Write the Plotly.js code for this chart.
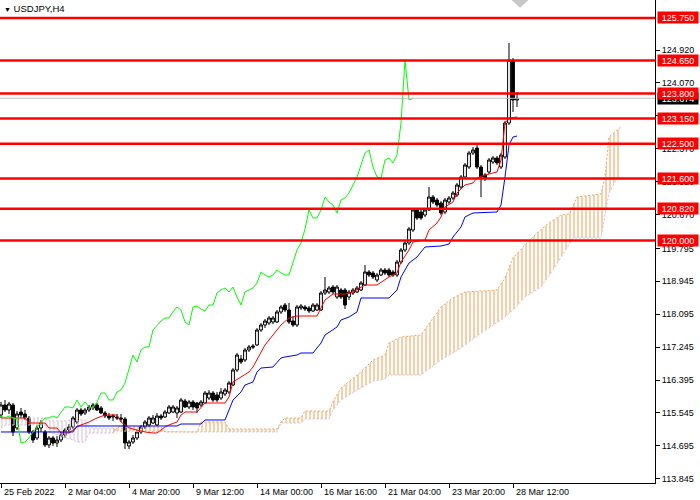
<!DOCTYPE html>
<html><head><meta charset="utf-8">
<script src="https://cdn.plot.ly/plotly-3.0.1.min.js"></script>
<style>html,body{margin:0;padding:0;background:#fff}#chart{width:700px;height:500px}</style>
</head><body><div id="chart"></div>
<script>
const symbolTitle = "USDJPY,H4";
const timeLabels = ["25 Feb 2022","2 Mar 04:00","4 Mar 20:00","9 Mar 12:00","14 Mar 00:00","16 Mar 16:00","21 Mar 04:00","23 Mar 20:00","28 Mar 12:00"];
const timeLabelBars = [0,16,32,48,64,80,96,112,128];
const priceTicks = [113.845,114.695,115.545,116.395,117.245,118.095,118.945,119.795,120.670,121.520,122.370,123.220,124.070,124.920];
const levels = [125.75,124.65,123.80,123.15,122.50,121.60,120.82,120.00];
const bidPrice = 123.674;
const chikouShift = 26;

const opens = [115.491,115.749,115.620,115.749,115.155,115.568,115.517,115.413,115.052,114.897,
115.155,115.052,114.716,114.897,114.767,114.845,114.974,115.103,115.181,115.310,
115.620,115.543,115.620,115.672,115.749,115.672,115.543,115.465,115.439,115.439,
115.413,115.388,114.690,114.793,114.897,115.052,115.181,115.233,115.284,115.233,
115.465,115.439,115.543,115.568,115.543,115.568,115.853,115.698,115.827,115.801,
115.749,115.801,115.930,116.059,116.008,115.930,116.033,116.085,116.266,116.654,
116.938,116.912,117.171,117.274,117.300,117.687,117.817,117.868,117.894,117.894,
118.153,118.333,118.204,117.920,117.817,118.256,118.282,118.256,118.178,118.204,
118.204,118.643,118.669,118.798,118.540,118.721,118.721,118.540,118.643,118.669,
118.721,118.850,119.186,119.160,118.979,119.108,119.237,119.237,119.186,119.108,
119.444,119.754,119.935,120.271,120.788,120.736,120.659,120.788,121.124,121.046,
120.969,120.736,120.995,121.098,121.176,121.382,121.641,121.899,122.261,122.390,
121.899,121.692,121.770,122.028,122.132,121.899,122.157,123.036,124.664,123.630];
const highs = [115.827,115.879,115.827,115.801,115.594,115.672,115.620,115.465,115.103,115.233,
115.362,115.103,114.948,114.948,114.948,115.052,115.155,115.258,115.465,115.672,
115.672,115.672,115.749,115.801,115.801,115.723,115.594,115.543,115.517,115.517,
115.517,115.439,114.845,114.974,115.103,115.233,115.362,115.465,115.491,115.543,
115.517,115.620,115.749,115.749,115.723,115.930,115.904,115.879,115.879,115.827,
115.879,116.111,116.137,116.111,116.085,116.189,116.189,116.369,116.705,117.093,
117.041,117.222,117.300,117.326,117.739,117.868,117.972,118.049,118.049,118.204,
118.333,118.385,118.385,118.049,118.333,118.359,118.333,118.307,118.385,118.385,
118.695,119.057,118.824,118.850,118.850,118.773,118.773,118.721,118.773,118.824,
118.953,119.367,119.237,119.212,119.160,119.289,119.289,119.289,119.237,119.496,
119.806,120.013,120.349,120.840,120.840,120.840,120.840,121.382,121.176,121.098,
121.021,121.098,121.150,121.279,121.486,121.692,122.003,122.313,122.416,122.468,
121.951,121.744,122.132,122.183,122.183,122.261,123.088,125.103,124.716,123.837];
const lows = [115.413,115.568,115.517,114.948,115.103,115.413,115.362,115.000,114.767,114.845,
115.052,114.664,114.638,114.690,114.664,114.793,114.897,115.026,115.129,115.258,
115.465,115.491,115.568,115.620,115.594,115.517,115.413,115.362,115.336,115.362,
115.310,114.612,114.612,114.742,114.845,115.000,115.129,115.181,115.258,115.207,
115.362,115.413,115.517,115.543,115.413,115.543,115.672,115.646,115.620,115.543,
115.698,115.775,115.879,115.827,115.827,115.879,115.982,116.033,116.240,116.602,
116.809,116.860,117.119,117.196,117.274,117.636,117.739,117.817,117.842,117.868,
118.101,118.153,117.842,117.765,117.765,118.204,118.178,118.127,118.153,118.178,
118.178,118.592,118.617,118.617,118.488,118.488,118.230,118.463,118.592,118.643,
118.695,118.824,119.057,119.005,118.928,119.083,119.108,119.057,119.057,119.057,
119.393,119.703,119.884,120.220,120.530,120.530,120.607,120.762,120.943,120.866,
120.659,120.685,120.943,121.046,121.124,121.331,121.589,121.848,122.209,121.848,
121.124,121.537,121.718,121.977,121.951,121.848,122.106,122.985,123.320,123.450];
const closes = [115.749,115.620,115.775,115.052,115.517,115.491,115.413,115.052,114.845,115.155,
115.284,114.716,114.897,114.767,114.845,114.974,115.103,115.181,115.413,115.620,
115.517,115.620,115.698,115.749,115.620,115.543,115.465,115.413,115.465,115.413,
115.388,114.767,114.793,114.897,115.052,115.181,115.310,115.413,115.413,115.465,
115.413,115.568,115.698,115.698,115.672,115.879,115.698,115.827,115.698,115.672,
115.827,116.059,116.059,115.879,115.879,116.085,116.137,116.318,116.654,117.041,
116.860,117.171,117.248,117.248,117.687,117.817,117.920,117.998,117.998,118.153,
118.282,118.204,117.894,117.817,118.282,118.307,118.230,118.178,118.333,118.333,
118.643,118.721,118.773,118.669,118.798,118.540,118.333,118.669,118.721,118.773,
118.902,119.186,119.108,119.057,119.108,119.237,119.160,119.108,119.108,119.444,
119.754,119.935,120.297,120.788,120.581,120.581,120.788,121.124,120.995,120.917,
120.711,121.046,121.098,121.227,121.434,121.641,121.951,122.261,122.339,121.899,
121.641,121.615,122.080,122.132,122.003,122.209,123.036,124.664,123.630,123.674];

const tenkanBars = [0,6,7,11,12,14,15,17,18,19,20,22,24,26,29,30,31,32,34,36,38,39,40,41,42,44,45,46,49,50,51,56,57,58,60,62,63,64,65,66,69,70,72,74,79,80,81,83,86,88,90,91,94,96,97,99,100,102,103,106,107,109,110,111,113,114,116,118,119,121,124,125,126,127,129];
const tenkanValues = [115.413,115.413,115.284,115.284,115.155,115.155,115.026,115.026,115.103,115.181,115.233,115.310,115.413,115.491,115.491,115.310,115.233,115.155,115.103,115.052,115.026,115.026,115.103,115.181,115.233,115.310,115.491,115.568,115.568,115.672,115.801,115.801,115.956,116.344,116.473,116.602,116.731,116.912,117.093,117.300,117.687,117.817,117.998,118.049,118.049,118.256,118.463,118.617,118.617,118.669,118.798,118.850,118.850,118.979,119.057,119.160,119.444,119.754,119.961,120.013,120.271,120.452,120.607,120.866,120.995,121.227,121.434,121.486,121.615,121.692,121.770,122.080,123.036,123.165,123.191];
const kijunBars = [0,18,19,44,45,50,51,56,57,58,60,61,63,64,65,68,70,71,74,75,78,80,81,83,84,85,87,89,90,97,99,100,102,104,106,110,112,113,115,116,118,124,125,126,127,128,129];
const kijunValues = [115.052,115.052,115.207,115.207,115.258,115.258,115.362,115.362,115.620,115.878,116.085,116.266,116.344,116.602,116.705,116.731,116.964,116.990,117.041,117.093,117.093,117.351,117.558,117.687,117.765,117.946,118.023,118.153,118.514,118.514,118.721,119.057,119.418,119.573,119.832,119.858,119.909,120.090,120.349,120.607,120.711,120.736,120.917,121.641,122.468,122.674,122.700];
const spanABars = [0,1,11,12,16,18,19,21,22,28,29,30,31,40,41,49,50,56,57,69,70,71,75,76,82,83,85,90,93,96,97,100,105,110,113,116,124,126,128,131,134,137,140,142,143,144,150,151,152,155];
const spanAValues = [115.155,115.233,115.233,115.052,114.897,114.845,114.793,114.793,115.026,115.026,115.155,115.233,115.181,115.181,115.052,115.052,115.310,115.310,115.129,115.129,115.310,115.413,115.413,115.594,115.594,115.827,116.189,116.602,116.912,117.041,117.351,117.506,117.558,118.282,118.514,118.669,118.721,119.031,119.548,119.884,120.194,120.452,120.659,120.685,120.917,121.124,121.202,121.641,122.674,122.933];
const spanBBars = [0,11,12,16,17,21,22,28,29,49,69,70,75,76,82,83,85,90,93,96,97,105,110,115,120,125,128,131,135,138,141,143,150,151,152,154,155];
const spanBValues = [115.413,115.413,115.336,115.336,115.362,115.362,115.155,115.155,115.077,115.052,115.052,115.284,115.284,115.388,115.388,115.620,115.878,116.189,116.369,116.421,116.525,116.525,116.912,117.222,117.610,117.946,118.204,118.540,118.798,119.237,119.754,120.064,120.064,120.607,121.227,121.615,121.615];
const cloudTwistBar = 29;

const bars = closes.map((_, i) => i);
const FONT = "Liberation Sans, Arial, sans-serif";
const FS = 9;

function seg(xs, ys, lo, hi) {
  const x = [], y = [];
  xs.forEach((v, i) => { if (v >= lo && v <= hi) { x.push(v); y.push(ys[i]); } });
  return {x, y};
}
function cloudPair(lo, hi, color, boundA, boundB) {
  const a = seg(spanABars, spanAValues, lo, hi), b = seg(spanBBars, spanBValues, lo, hi);
  return [
    {x: b.x, y: b.y, type: 'scatter', mode: 'lines', line: {color: boundB, width: 1, dash: '2px,2px'}, hoverinfo: 'skip'},
    {x: a.x, y: a.y, type: 'scatter', mode: 'lines', line: {color: boundA, width: 1, dash: '2px,2px'}, hoverinfo: 'skip',
     fill: 'tonexty', fillcolor: 'rgba(0,0,0,0)',
     fillpattern: {shape: '|', fgcolor: color, bgcolor: 'rgba(0,0,0,0)', size: 4, solidity: 0.3, fgopacity: 0.9}}
  ];
}

const traces = [
  ...cloudPair(0, cloudTwistBar, '#D8BFD8', '#D8BFD8', '#D8BFD8'),
  ...cloudPair(cloudTwistBar - 1, 1000, '#F4A460', '#F4A460', '#D8BFD8'),
  {type: 'candlestick', x: bars, open: opens, high: highs, low: lows, close: closes,
   increasing: {line: {color: '#000', width: 1}, fillcolor: '#fff'},
   decreasing: {line: {color: '#000', width: 1}, fillcolor: '#000'},
   whiskerwidth: 0, hoverinfo: 'skip'},
  {x: tenkanBars, y: tenkanValues, type: 'scatter', mode: 'lines', line: {color: '#FF0000', width: 1}, hoverinfo: 'skip'},
  {x: kijunBars, y: kijunValues, type: 'scatter', mode: 'lines', line: {color: '#0000FF', width: 1}, hoverinfo: 'skip'},
  {x: bars.slice(chikouShift).map(i => i - chikouShift), y: closes.slice(chikouShift), type: 'scatter', mode: 'lines', line: {color: '#00FF00', width: 1}, hoverinfo: 'skip'}
];

const shapes = [
  {type: 'line', xref: 'paper', x0: 0, x1: 1, yref: 'y', y0: bidPrice, y1: bidPrice, line: {color: '#C0C0C0', width: 1}, layer: 'above'},
  ...levels.map(v => ({type: 'line', xref: 'paper', x0: 0, x1: 1, yref: 'y', y0: v, y1: v, line: {color: '#FF0000', width: 2.5}, layer: 'above'})),
  {type: 'path', xref: 'paper', yref: 'paper', path: 'M 0.781 1 L 0.807 1 L 0.794 0.984 Z', fillcolor: '#C8C8C8', line: {width: 0}}
];

const annotations = [
  {xref: 'paper', yref: 'paper', x: 0, y: 1, xanchor: 'left', yanchor: 'top', xshift: 2, yshift: -1, showarrow: false,
   text: '<span style="font-size:7px">▼</span> ' + symbolTitle, font: {family: FONT, size: 9.5, color: '#000'}},
  {xref: 'paper', x: 1, xanchor: 'left', xshift: 2, yref: 'y', y: bidPrice, showarrow: false, text: bidPrice.toFixed(3),
   bgcolor: '#000', font: {family: FONT, size: FS, color: '#fff'}, width: 40, height: 11, borderpad: 0},
  ...levels.map(v => ({xref: 'paper', x: 1, xanchor: 'left', xshift: 2, yref: 'y', y: v, showarrow: false, text: v.toFixed(3),
   bgcolor: '#FF0000', font: {family: FONT, size: FS, color: '#fff'}, width: 40, height: 11, borderpad: 0})),
  ...timeLabels.map((t, i) => ({xref: 'x', x: timeLabelBars[i], xanchor: 'left', xshift: 1, yref: 'paper', y: 0, yanchor: 'top', yshift: -2,
   showarrow: false, text: t, font: {family: FONT, size: FS, color: '#000'}}))
];

const layout = {
  width: 700, height: 500,
  margin: {l: 0, r: 45, t: 0, b: 17, pad: 0},
  paper_bgcolor: '#fff', plot_bgcolor: '#fff',
  showlegend: false,
  boxgap: 0.3, boxgroupgap: 0,
  xaxis: {range: [-0.25, 163.5], showgrid: false, zeroline: false, showline: true, linecolor: '#000', linewidth: 1,
          ticks: 'outside', ticklen: 4, tickcolor: '#000', tickvals: timeLabelBars, showticklabels: false,
          rangeslider: {visible: false}, fixedrange: true},
  yaxis: {side: 'right', range: [113.7335, 126.2145], showgrid: false, zeroline: false, showline: true, linecolor: '#000', linewidth: 1,
          ticks: 'outside', ticklen: 4, tickcolor: '#000', tickvals: priceTicks, ticktext: priceTicks.map(v => v.toFixed(3)),
          tickfont: {family: FONT, size: FS, color: '#000'}, fixedrange: true},
  shapes, annotations
};

Plotly.newPlot('chart', traces, layout, {staticPlot: true, displayModeBar: false});
</script></body></html>
